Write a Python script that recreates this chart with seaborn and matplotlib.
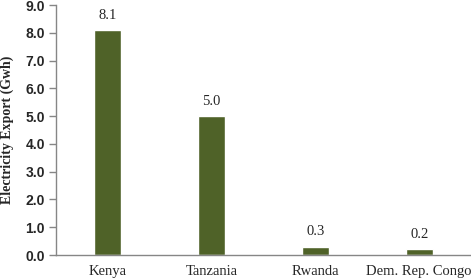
import matplotlib
matplotlib.use('Agg')
import matplotlib.pyplot as plt
import seaborn as sns
import pandas as pd

# Data
countries = ['Kenya', 'Tanzania', 'Rwanda', 'Dem. Rep. Congo']
export_gwh = [8.1, 5.0, 0.3, 0.2]
yticks = [0, 1, 2, 3, 4, 5, 6, 7, 8, 9]

df = pd.DataFrame({'Country': countries, 'Export': export_gwh})

sns.set_style('white')
plt.rcParams['font.family'] = ['Liberation Serif', 'DejaVu Serif']

fig = plt.figure(figsize=(4.71, 2.79), dpi=100)
ax = fig.add_axes([0.119, 0.086, 0.881, 0.896])

sns.barplot(data=df, x='Country', y='Export', color='#4F6228', width=0.26,
            saturation=1, ax=ax)

for i, v in enumerate(export_gwh):
    ax.text(i, v + 0.3, f'{v:.1f}', ha='center', va='bottom', fontsize=10.5)

ax.set_xlim(-0.5, 3.5)
ax.set_ylim(0, 9)
ax.set_yticks(yticks)
ax.set_yticklabels([f'{t:.1f}' for t in yticks], fontweight='bold', fontsize=10,
                   family=['Liberation Sans', 'DejaVu Sans'])
ax.tick_params(axis='x', labelsize=10.5, length=0, pad=7)
ax.tick_params(axis='y', length=5, width=1, color='#868686', pad=3, direction='out', left=True)
ax.set_xlabel('')
ax.set_ylabel('Electricity Export (Gwh)', fontweight='bold', fontsize=10, labelpad=8)

for s in ['top', 'right']:
    ax.spines[s].set_visible(False)
for s in ['left', 'bottom']:
    ax.spines[s].set_color('#868686')
    ax.spines[s].set_linewidth(1)

fig.savefig('out.png', dpi=100)
